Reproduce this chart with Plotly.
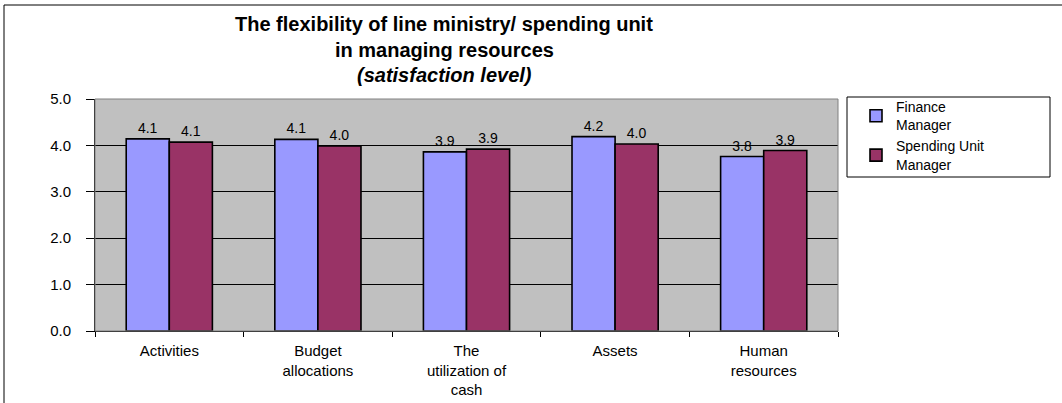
import plotly.graph_objects as go

# Survey results: flexibility of line ministry / spending unit in managing resources
categories = ["Activities", "Budget<br>allocations", "The<br>utilization of<br>cash", "Assets", "Human<br>resources"]
finance_manager = [4.14, 4.13, 3.86, 4.19, 3.76]
spending_unit_manager = [4.07, 3.99, 3.92, 4.03, 3.89]
series_names = ["Finance<br>Manager", "Spending Unit<br>Manager"]
y_ticks = [0, 1, 2, 3, 4, 5]

FONT = "Liberation Sans, Arial, sans-serif"
W, H = 1062, 403
L, R, T, B = 95, 224, 99, 72
PW, PH = W - L - R, H - T - B


def px_x(p):
    return (p - L) / PW


def px_y(p):
    return (H - B - p) / PH


fig = go.Figure()
for name, vals, color in [
    (series_names[0], finance_manager, "#9999FF"),
    (series_names[1], spending_unit_manager, "#993366"),
]:
    fig.add_trace(go.Bar(
        x=categories, y=vals, name=name,
        marker=dict(color=color, line=dict(color="black", width=1.6)),
        texttemplate="%{y:.1f}", textposition="outside",
        textfont=dict(family=FONT, size=14, color="black"),
        cliponaxis=False,
    ))

fig.update_layout(
    width=W, height=H,
    margin=dict(l=L, r=R, t=T, b=B, autoexpand=False),
    paper_bgcolor="white", plot_bgcolor="#C0C0C0",
    barmode="group", bargap=0.42, bargroupgap=0.0,
    font=dict(family=FONT, color="black"),
    showlegend=True,
    legend=dict(
        x=px_x(856), y=px_y(91), xanchor="left", yanchor="top",
        font=dict(family=FONT, size=14, color="black"),
        bgcolor="rgba(0,0,0,0)", borderwidth=0,
    ),
    xaxis=dict(
        showgrid=False, showline=True, linecolor="black", linewidth=1,
        ticks="outside", tickson="boundaries", ticklen=5, tickcolor="black",
        tickfont=dict(family=FONT, size=15, color="black"),
        ticklabelstandoff=6,
        zeroline=False,
    ),
    yaxis=dict(
        range=[0, 5], tickvals=y_ticks, tickformat=".1f",
        showgrid=True, gridcolor="black", gridwidth=1,
        showline=True, linecolor="black", linewidth=1,
        ticks="outside", ticklen=8, tickcolor="black",
        tickfont=dict(family=FONT, size=15, color="black"),
        ticklabelstandoff=12,
        zeroline=False, mirror=False,
    ),
)

# Plot-area frame
fig.add_shape(type="rect", xref="paper", yref="paper", x0=0, x1=1, y0=0, y1=1,
              line=dict(color="#808080", width=1), layer="above")
# Outer chart frame
fig.add_shape(type="rect", xref="paper", yref="paper",
              x0=px_x(4), x1=px_x(1070), y0=px_y(410), y1=px_y(5),
              line=dict(color="black", width=1))
# Legend frame
fig.add_shape(type="rect", xref="paper", yref="paper",
              x0=px_x(847), x1=px_x(1050), y0=px_y(177), y1=px_y(97),
              line=dict(color="black", width=1))

# Title lines
title_lines = [
    ("<b>The flexibility of line ministry/ spending unit</b>", 24),
    ("<b>in managing resources</b>", 50),
    ("<b><i>(satisfaction level)</i></b>", 75),
]
for text, ypix in title_lines:
    fig.add_annotation(text=text, xref="paper", yref="paper",
                       x=px_x(444), y=px_y(ypix), xanchor="center", yanchor="middle",
                       showarrow=False, font=dict(family=FONT, size=20, color="black"))

fig.write_html("out.html")
